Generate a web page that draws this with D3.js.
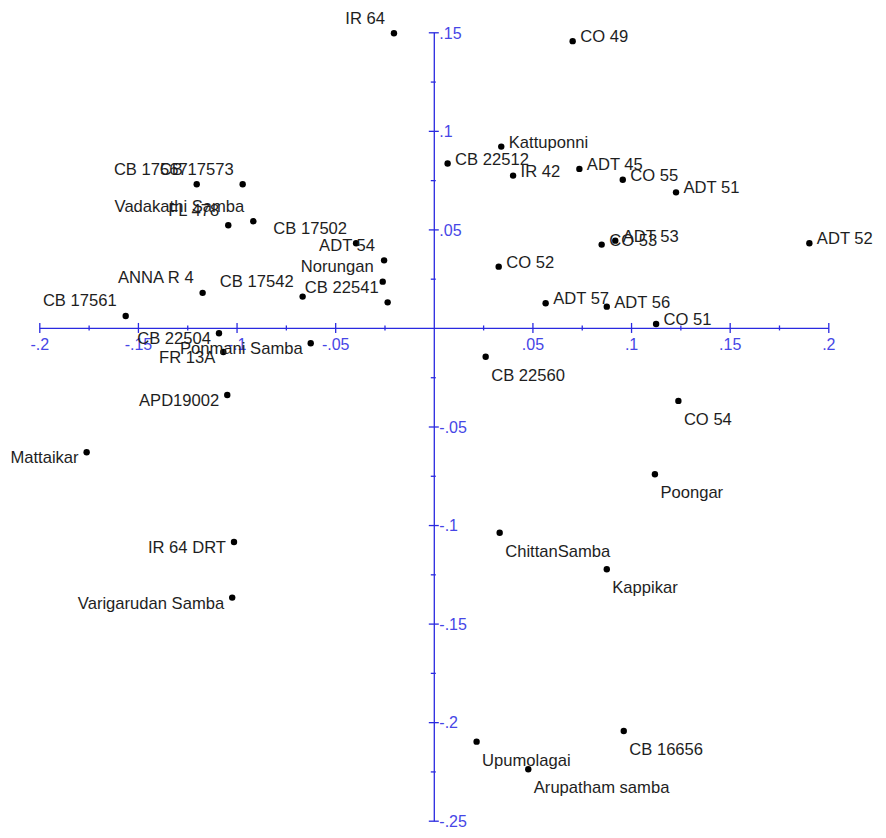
<!DOCTYPE html>
<html>
<head>
<meta charset="utf-8">
<script src="https://cdn.jsdelivr.net/npm/d3@7"></script>
<style>
  html, body { margin: 0; padding: 0; background: #ffffff; }
  svg { display: block; }
</style>
</head>
<body>
<svg id="chart" width="886" height="838"></svg>
<script>
// ---- data ----
const genotypes = [
  "CB 17567", "CB 17573", "FL 478", "Vadakathi Samba", "CB 17502", "ADT 54",
  "Norungan", "CB 22541", "ANNA R 4", "CB 17542", "CB 17561",
  "CB 22504", "Ponmani Samba", "FR 13A", "APD19002", "Mattaikar", "IR 64 DRT", "Varigarudan Samba",
  "IR 64", "CO 49", "Kattuponni", "CB 22512", "IR 42", "ADT 45", "CO 55", "ADT 51",
  "CO 53", "ADT 53", "ADT 52", "CO 52", "ADT 57", "ADT 56", "CO 51",
  "CB 22560", "CO 54", "Poongar", "ChittanSamba", "Kappikar", "CB 16656", "Upumolagai", "Arupatham samba"
];
const pc1 = [
  -0.1202, -0.0969, -0.1042, -0.0915, -0.0394, -0.0252,
  -0.0259, -0.0234, -0.1172, -0.0665, -0.1562,
  -0.1089, -0.0624, -0.1067, -0.1047, -0.1760, -0.1013, -0.1022,
  -0.0202, 0.0704, 0.0342, 0.0070, 0.0402, 0.0738, 0.0958, 0.1228,
  0.0851, 0.0920, 0.1904, 0.0329, 0.0567, 0.0877, 0.1127,
  0.0263, 0.1240, 0.1121, 0.0334, 0.0877, 0.0963, 0.0217, 0.0479
];
const pc2 = [
  0.0729, 0.0729, 0.0521, 0.0541, 0.0430, 0.0343,
  0.0235, 0.0130, 0.0178, 0.0159, 0.0061,
  -0.0027, -0.0078, -0.0122, -0.0340, -0.0631, -0.1086, -0.1368,
  0.1495, 0.1455, 0.0920, 0.0834, 0.0773, 0.0807, 0.0752, 0.0688,
  0.0423, 0.0443, 0.0430, 0.0311, 0.0125, 0.0108, 0.0020,
  -0.0146, -0.0370, -0.0742, -0.1039, -0.1224, -0.2045, -0.2099, -0.2239
];
// label placement relative to marker: ul = upper-left, l = left, r = right, lr = lower-right
const labelPlacement = [
  "ul","ul","ul","ul","ul","ul","ul","ul","ul","ul","ul",
  "l","l","l","l","l","l","l",
  "ul","r","r","r","r","r","r","r","r","r","r","r","r","r","r",
  "lr","lr","lr","lr","lr","lr","lr","lr"
];
const xTicks = [-0.2, -0.15, -0.1, -0.05, 0.05, 0.1, 0.15, 0.2];
const xTickLabels = ["-.2", "-.15", "-.1", "-.05", ".05", ".1", ".15", ".2"];
const yTicks = [0.15, 0.1, 0.05, -0.05, -0.1, -0.15, -0.2, -0.25];
const yTickLabels = [".15", ".1", ".05", "-.05", "-.1", "-.15", "-.2", "-.25"];
const minorTicksX = [-0.175, -0.125, -0.075, -0.025, 0.025, 0.075, 0.125, 0.175];
const minorTicksY = [0.125, 0.075, 0.025, -0.025, -0.075, -0.125, -0.175, -0.225];

// ---- drawing ----
const svg = d3.select("#chart");
svg.append("rect").attr("width", 886).attr("height", 838).attr("fill", "#ffffff");

const x = d3.scaleLinear().domain([-0.2, 0.2]).range([39.3, 828.3]);
const y = d3.scaleLinear().domain([-0.25, 0.15]).range([820.7, 32.3]);

const axisColor = "#2a2ae0";
const tickTextColor = "#4646e6";
const font = "'Liberation Sans', Arial, sans-serif";

// X axis
const gx = svg.append("g").attr("transform", `translate(0,${y(0)})`);
gx.call(d3.axisBottom(x).tickValues(xTicks)
  .tickFormat((d, i) => xTickLabels[i]).tickSize(5).tickSizeOuter(0));
gx.selectAll(".tick line").attr("y1", -5).attr("y2", 5);
gx.selectAll(".tick text").attr("y", 22).attr("dy", null);

const gxm = svg.append("g").attr("transform", `translate(0,${y(0)})`);
gxm.call(d3.axisBottom(x).tickValues(minorTicksX).tickFormat("").tickSize(2.5).tickSizeOuter(0));
gxm.select(".domain").remove();
gxm.selectAll(".tick line").attr("y1", -2.5).attr("y2", 2.5);

// Y axis
const gy = svg.append("g").attr("transform", `translate(${x(0)},0)`);
gy.call(d3.axisRight(y).tickValues(yTicks)
  .tickFormat((d, i) => yTickLabels[i]).tickSize(5).tickSizeOuter(0));
gy.selectAll(".tick line").attr("x1", -5).attr("x2", 5);
gy.selectAll(".tick text").attr("x", 5.5).attr("dy", "0.36em");

const gym = svg.append("g").attr("transform", `translate(${x(0)},0)`);
gym.call(d3.axisRight(y).tickValues(minorTicksY).tickFormat("").tickSize(2.5).tickSizeOuter(0));
gym.select(".domain").remove();
gym.selectAll(".tick line").attr("x1", -3).attr("x2", 2);

[gx, gxm, gy, gym].forEach(g => {
  g.selectAll(".domain").attr("stroke", axisColor).attr("stroke-width", 1.3);
  g.selectAll(".tick line").attr("stroke", axisColor).attr("stroke-width", 1.3);
  g.selectAll(".tick text").attr("fill", tickTextColor)
    .style("font-family", font).style("font-size", "16px");
});

// Points
const pts = genotypes.map((name, i) => ({ name, px: pc1[i], py: pc2[i], pos: labelPlacement[i] }));

svg.append("g").selectAll("circle").data(pts).join("circle")
  .attr("cx", d => x(d.px)).attr("cy", d => y(d.py))
  .attr("r", 3.2).attr("fill", "#000000");

const off = {
  ul: { dx: -9, dy: -9.5, anchor: "end" },
  l:  { dx: -8, dy: 11, anchor: "end" },
  r:  { dx: 7.5, dy: 1, anchor: "start" },
  lr: { dx: 5.5, dy: 24, anchor: "start" }
};

svg.append("g").selectAll("text").data(pts).join("text")
  .attr("x", d => x(d.px) + off[d.pos].dx)
  .attr("y", d => y(d.py) + off[d.pos].dy)
  .attr("text-anchor", d => off[d.pos].anchor)
  .attr("fill", "#1e1e1e")
  .style("font-family", font).style("font-size", "16.6px")
  .text(d => d.name);
</script>
</body>
</html>
